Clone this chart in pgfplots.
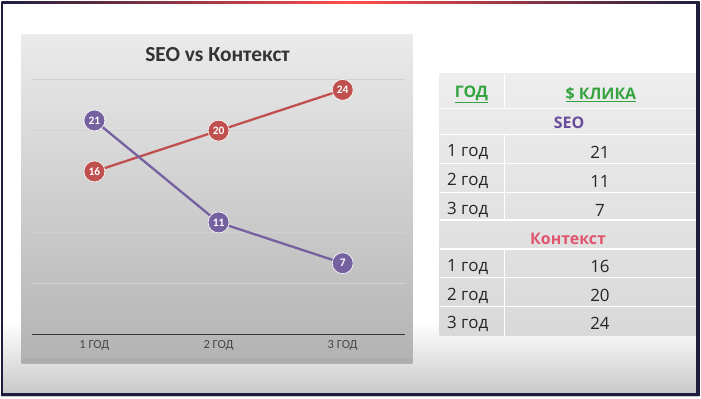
\documentclass[border=0pt]{standalone}
\usepackage{fontspec}
\usepackage{pgfplots}
\pgfplotsset{compat=1.18}
\setmainfont{Carlito}
\newfontfamily\tabfont{Open Sans}
\definecolor{seored}{HTML}{C0504D}
\definecolor{seopurple}{HTML}{7661A0}
\definecolor{hdrgreen}{HTML}{35A33F}
\definecolor{tpurple}{HTML}{6A4C9C}
\definecolor{tpink}{HTML}{E0556E}
\definecolor{frame}{HTML}{1E1E3C}
\begin{document}
\begin{tikzpicture}
% slide background
\fill[white] (0pt,0pt) rectangle (701pt,396pt);
\shade[top color=white, bottom color=black!22] (0pt,0pt) rectangle (701pt,75pt);
% chart area
\shade[top color=black!8, middle color=black!3, bottom color=black!30] (20pt,33pt) rectangle (413pt,363pt);
\fill[black!32] (20pt,33pt) rectangle (413pt,38pt);
\node[font=\bfseries\fontsize{21.5}{24}\selectfont, text=black!80] at (217pt,343pt) {SEO vs Контекст};
\begin{axis}[
  at={(31pt,62pt)}, anchor=south west,
  scale only axis, width=374pt, height=256pt,
  xmin=-0.5, xmax=2.5, ymin=0, ymax=25,
  axis x line*=bottom, axis y line*=left,
  x axis line style={draw=black!80, line width=1.5pt, -},
  y axis line style={draw=none},
  xtick={0,1,2}, xticklabels={1 ГОД,2 ГОД,3 ГОД},
  ytick={5,10,15,20,25}, yticklabels={},
  major tick length=0pt,
  ymajorgrids, grid style={black!18, line width=0.6pt},
  x tick label style={font=\fontsize{12.5}{14}\selectfont, text=black!72, yshift=-2pt},
  clip=false,
  nodes near coords={\pgfmathprintnumber[assume math mode=true]{\pgfplotspointmeta}},
  every node near coord/.append style={anchor=center, font=\bfseries\fontsize{11.5}{12}\selectfont, text=white},
]
\addplot[color=seored, line width=2.3pt, mark=*, mark size=10.5pt,
  mark options={fill=seored, draw=white, line width=0.6pt}] coordinates {(0,16) (1,20) (2,24)};
\addplot[color=seopurple, line width=2.3pt, mark=*, mark size=10.5pt,
  mark options={fill=seopurple, draw=white, line width=0.6pt}] coordinates {(0,21) (1,11) (2,7)};
\end{axis}
% table
\shade[top color=black!7, bottom color=black!15] (440pt,61pt) rectangle (697pt,324pt);
\foreach \yy in {289,263,234,205,177,148,119,90}
  \draw[white, line width=1.2pt] (440pt,\yy pt) -- (697pt,\yy pt);
\draw[white, line width=1.2pt] (505pt,324pt) -- (505pt,289pt);
\draw[white, line width=1.2pt] (505pt,263pt) -- (505pt,177pt);
\draw[white, line width=1.2pt] (505pt,148pt) -- (505pt,61pt);
\begin{scope}[every node/.style={font=\tabfont\fontsize{17}{19}\selectfont, text=black!85}]
\node[font=\tabfont\bfseries\fontsize{16}{18}\selectfont, text=hdrgreen] at (472pt,303pt) {\underline{ГОД}};
\node[font=\tabfont\bfseries\fontsize{16}{18}\selectfont, text=hdrgreen] at (602pt,303pt) {\underline{\$ КЛИКА}};
\node[font=\tabfont\bfseries\fontsize{16}{18}\selectfont, text=tpurple] at (570pt,275pt) {SEO};
\node[font=\tabfont\bfseries\fontsize{16}{18}\selectfont, text=tpink] at (569pt,158pt) {Контекст};
\node[anchor=west] at (444pt,245pt) {1 год};
\node[anchor=west] at (444pt,216pt) {2 год};
\node[anchor=west] at (444pt,187pt) {3 год};
\node[anchor=west] at (444pt,130pt) {1 год};
\node[anchor=west] at (444pt,101pt) {2 год};
\node[anchor=west] at (444pt,73pt) {3 год};
\node at (601pt,245pt) {21};
\node at (601pt,216pt) {11};
\node at (601pt,187pt) {7};
\node at (601pt,130pt) {16};
\node at (601pt,101pt) {20};
\node at (601pt,73pt) {24};
\end{scope}
% frame
\draw[frame, line width=2pt] (1pt,0pt) -- (1pt,396pt);
\draw[frame, line width=4pt] (699pt,0pt) -- (699pt,396pt);
\draw[frame, line width=3pt] (0pt,1.5pt) -- (701pt,1.5pt);
\shade[left color=frame, right color=frame, middle color=red!70!white] (0pt,394pt) rectangle (701pt,396pt);
\end{tikzpicture}
\end{document}
